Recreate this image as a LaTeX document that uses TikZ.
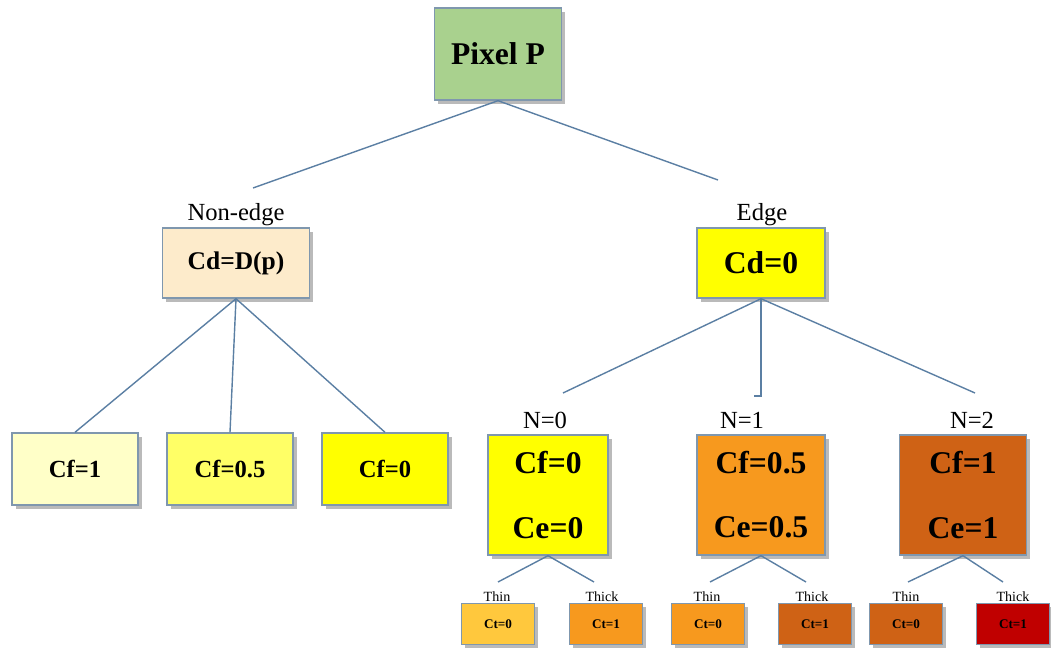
\documentclass[tikz,border=0pt]{standalone}
\usepackage{fontspec}
\setmainfont{Liberation Serif}
\usetikzlibrary{shadows}
\definecolor{boxline}{HTML}{7F97AE}
\definecolor{link}{HTML}{5B7FA3}
\definecolor{pgreen}{HTML}{A9D18E}
\definecolor{peach}{HTML}{FDEBCB}
\definecolor{paleyel}{HTML}{FFFFC8}
\definecolor{midyel}{HTML}{FFFF66}
\definecolor{fullyel}{HTML}{FFFF00}
\definecolor{lightorg}{HTML}{FFC83D}
\definecolor{midorg}{HTML}{F7991E}
\definecolor{darkorg}{HTML}{CF6215}
\definecolor{deepred}{HTML}{C00000}
\tikzstyle{box} = [rectangle, draw=boxline, line width=0.8pt, align=center, inner sep=0pt, drop shadow={shadow xshift=2pt, shadow yshift=-2pt, fill=black!45, opacity=0.6}]
\tikzstyle{root} = [box, minimum width=2.54cm, minimum height=1.84cm, font=\fontsize{18}{20}\selectfont\bfseries, fill=pgreen]
\tikzstyle{cbox} = [box, minimum width=2.6cm, minimum height=1.4cm, font=\fontsize{15}{17}\selectfont\bfseries]
\tikzstyle{leaf} = [box, minimum width=2.52cm, minimum height=1.44cm, font=\fontsize{14}{16}\selectfont\bfseries]
\tikzstyle{nbox} = [box, minimum width=2.4cm, minimum height=2.4cm, font=\fontsize{18}{20}\selectfont\bfseries]
\tikzstyle{tbox} = [box, minimum width=1.46cm, minimum height=0.82cm, font=\fontsize{7.5}{9}\selectfont\bfseries]
\tikzstyle{tag} = [inner sep=0pt, font=\fontsize{14}{16}\selectfont]
\tikzstyle{small} = [inner sep=0pt, font=\fontsize{8}{9}\selectfont]
\tikzstyle{link} = [draw=link, line width=0.8pt]

\begin{document}
\begin{tikzpicture}[x=0.02cm, y=-0.02cm]
   \useasboundingbox (0,0) rectangle (1051,658);
   % top
   \node (pix) [root] at (498,54) {Pixel P};
   \coordinate (lend) at (253,188);
   \coordinate (rend) at (718,180);
   \draw [link] (pix.south) -- (lend);
   \draw [link] (pix.south) -- (rend);

   % non-edge side
   \node (nonedge) [tag] at (236,215) {Non-edge};
   \node (cdp) [cbox, fill=peach, minimum width=2.94cm, font=\fontsize{14.5}{16}\selectfont\bfseries] at (236,263) {Cd=D(p)};
   \node (cf1) [leaf, fill=paleyel] at (75,469) {Cf=1};
   \node (cf2) [leaf, fill=midyel] at (230,469) {Cf=0.5};
   \node (cf3) [leaf, fill=fullyel] at (385,469) {Cf=0};
   \draw [link] (cdp.south) -- (cf1.north);
   \draw [link] (cdp.south) -- (cf2.north);
   \draw [link] (cdp.south) -- (cf3.north);

   % edge side
   \node (edge) [tag] at (762,215) {Edge};
   \node (cd0) [cbox, fill=fullyel, minimum width=2.56cm, font=\fontsize{18}{20}\selectfont\bfseries] at (761,263) {Cd=0};
   \coordinate (e0) at (563,393);
   \coordinate (e1) at (754,396);
   \coordinate (e2) at (975,393);
   \draw [link] (cd0.south) -- (e0);
   \draw [link] (cd0.south) |- (e1);
   \draw [link] (cd0.south) -- (e2);

   \node (lab0) [tag] at (545,420) {N=0};
   \node (lab1) [tag] at (742,420) {N=1};
   \node (lab2) [tag] at (972,420) {N=2};
   \node (n0) [nbox, fill=fullyel] at (548,495) {Cf=0\\[0.58cm]Ce=0};
   \node (n1) [nbox, fill=midorg, minimum width=2.56cm] at (761,495) {Cf=0.5\\[0.58cm]Ce=0.5};
   \node (n2) [nbox, fill=darkorg, minimum width=2.54cm] at (963,495) {Cf=1\\[0.58cm]Ce=1};

   % thin / thick
   \coordinate (a0) at (498,582);
   \coordinate (b0) at (594,582);
   \coordinate (a1) at (710,582);
   \coordinate (b1) at (806,582);
   \coordinate (a2) at (908,582);
   \coordinate (b2) at (1003,582);
   \draw [link] (n0.south) -- (a0);
   \draw [link] (n0.south) -- (b0);
   \draw [link] (n1.south) -- (a1);
   \draw [link] (n1.south) -- (b1);
   \draw [link] (n2.south) -- (a2);
   \draw [link] (n2.south) -- (b2);

   \node (thin0) [small] at (497,597) {Thin};
   \node (thick0) [small] at (602,597) {Thick};
   \node (thin1) [small] at (707,597) {Thin};
   \node (thick1) [small] at (812,597) {Thick};
   \node (thin2) [small] at (906,597) {Thin};
   \node (thick2) [small] at (1013,597) {Thick};
   \node (t00) [tbox, fill=lightorg] at (498,624) {Ct=0};
   \node (t01) [tbox, fill=midorg] at (606,624) {Ct=1};
   \node (t10) [tbox, fill=midorg] at (708,624) {Ct=0};
   \node (t11) [tbox, fill=darkorg] at (815,624) {Ct=1};
   \node (t20) [tbox, fill=darkorg] at (906,624) {Ct=0};
   \node (t21) [tbox, fill=deepred] at (1013,624) {Ct=1};
\end{tikzpicture}
\end{document}
